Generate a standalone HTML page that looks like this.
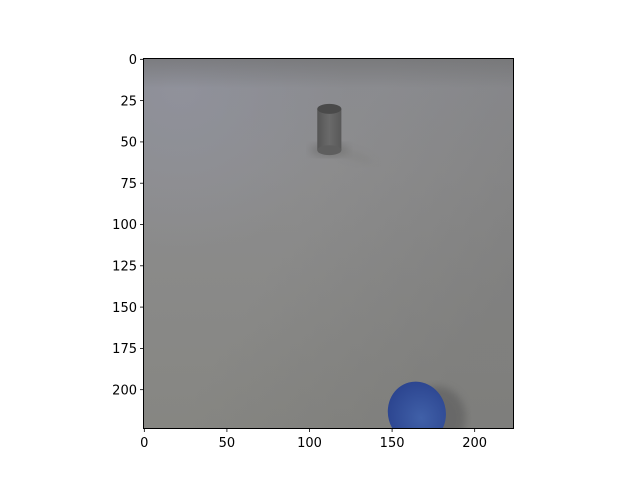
<!DOCTYPE html>
<html><head><meta charset="utf-8"><style>
body{margin:0;background:#fff;}
svg{display:block;font-family:"DejaVu Sans","Liberation Sans",sans-serif;}
</style></head><body>
<svg id="chart" width="640" height="480">
<defs>
<linearGradient id="bgv" x1="0" y1="0" x2="0" y2="1">
<stop offset="0" stop-color="#8a8b90"/><stop offset="0.3" stop-color="#8c8c8d"/><stop offset="1" stop-color="#868682"/>
</linearGradient>
<radialGradient id="tl" cx="0.1" cy="0.08" r="0.45">
<stop offset="0" stop-color="#9294a0" stop-opacity="0.7"/><stop offset="1" stop-color="#9294a0" stop-opacity="0"/>
</radialGradient>
<linearGradient id="tr" x1="0" y1="0" x2="1" y2="0.6">
<stop offset="0.5" stop-color="#707070" stop-opacity="0"/><stop offset="1" stop-color="#707070" stop-opacity="0.35"/>
</linearGradient>
<linearGradient id="top" x1="0" y1="0" x2="0" y2="1">
<stop offset="0" stop-color="#6e6e6e" stop-opacity="0.6"/><stop offset="0.08" stop-color="#6e6e6e" stop-opacity="0"/>
</linearGradient>
<linearGradient id="cyl" x1="0" y1="0" x2="1" y2="0">
<stop offset="0" stop-color="#555"/><stop offset="0.5" stop-color="#6a6a6a"/><stop offset="1" stop-color="#585858"/>
</linearGradient>
<radialGradient id="disc" cx="0.55" cy="0.6" r="0.6">
<stop offset="0" stop-color="#4060a8"/><stop offset="1" stop-color="#2c4590"/>
</radialGradient>
<filter id="blur"><feGaussianBlur stdDeviation="4"/></filter>
<clipPath id="axclip"><rect x="143.5" y="58" width="370.5" height="370"/></clipPath>
</defs>
<g id="plot" clip-path="url(#axclip)"></g>
<rect x="143.5" y="58.5" width="370" height="370" fill="none" stroke="#000" stroke-width="1"/>
<g id="xticks"></g>
<g id="yticks"></g>
</svg>
<script>
const xTicks=[0,50,100,150,200];
const yTicks=[0,25,50,75,100,125,150,175,200];
const imgSize=[224,224];
const cylinder=[112,30,7.3,3,25]; // cx, topY, rx, ry, height
const disc=[165,214,17.5,19];
const X0=143.5,Y0=58.5,W=370,H=370;
const sx=v=>X0+(v+0.5)*W/imgSize[0];
const sy=v=>Y0+(v+0.5)*H/imgSize[1];
const k=W/imgSize[0];
const NS="http://www.w3.org/2000/svg";
function mk(tag,attrs,parent){const e=document.createElementNS(NS,tag);for(const a in attrs)e.setAttribute(a,attrs[a]);parent.appendChild(e);return e;}
const plot=document.getElementById('plot');
let e;
e=mk('rect',{x:X0,y:Y0,width:W,height:H,fill:'url(#bgv)'},plot);


mk('rect',{x:X0,y:Y0,width:W,height:H,fill:'url(#tl)'},plot);
mk('rect',{x:X0,y:Y0,width:W,height:H,fill:'url(#tr)'},plot);
mk('rect',{x:X0,y:Y0,width:W,height:H,fill:'url(#top)'},plot);
const [ccx,cty,crx,cry,ch]=cylinder;
mk('ellipse',{cx:sx(ccx),cy:sy(cty+ch),rx:crx*k*1.6,ry:cry*k*1.4,fill:'#707070',opacity:0.6,filter:'url(#blur)'},plot);
mk('polygon',{points:`${sx(ccx)},${sy(cty+ch-4)} ${sx(ccx+22)},${sy(cty+ch+4)} ${sx(ccx+28)},${sy(cty+ch+9)} ${sx(ccx+8)},${sy(cty+ch+3)}`,fill:'#7d7d7a',opacity:0.5,filter:'url(#blur)'},plot);
const cg=mk('g',{},plot);


mk('rect',{x:sx(ccx)-crx*k,y:sy(cty),width:2*crx*k,height:ch*k,fill:'url(#cyl)'},cg);
mk('ellipse',{cx:sx(ccx),cy:sy(cty+ch),rx:crx*k,ry:cry*k,fill:'#5e5e5e'},cg);
mk('ellipse',{cx:sx(ccx),cy:sy(cty),rx:crx*k,ry:cry*k,fill:'#4a4a4a'},cg);
const [dx,dy,drx,dry]=disc;
mk('ellipse',{cx:sx(dx+12),cy:sy(dy+3),rx:drx*k,ry:dry*k,fill:'#606060',opacity:0.7,filter:'url(#blur)'},plot);
e=mk('ellipse',{cx:sx(dx),cy:sy(dy),rx:drx*k,ry:dry*k,fill:'url(#disc)',transform:`rotate(-15 ${sx(dx)} ${sy(dy)})`},plot);


const xg=document.getElementById('xticks');
xTicks.forEach(t=>{
 const x=sx(t);
 mk('line',{x1:x,x2:x,y1:428.5,y2:432,stroke:'#000','stroke-width':0.8},xg);
 e=mk('text',{x:x,y:447,'text-anchor':'middle','font-size':13,fill:'#000'},xg);
 e.textContent=t;
 
 
});
const yg=document.getElementById('yticks');
yTicks.forEach(t=>{
 const y=sy(t);
 mk('line',{x1:140,x2:143.5,y1:y,y2:y,stroke:'#000','stroke-width':0.8},yg);
 e=mk('text',{x:137,y:y+4.7,'text-anchor':'end','font-size':13,fill:'#000'},yg);
 e.textContent=t;
 
 
});
</script>
</body></html>
